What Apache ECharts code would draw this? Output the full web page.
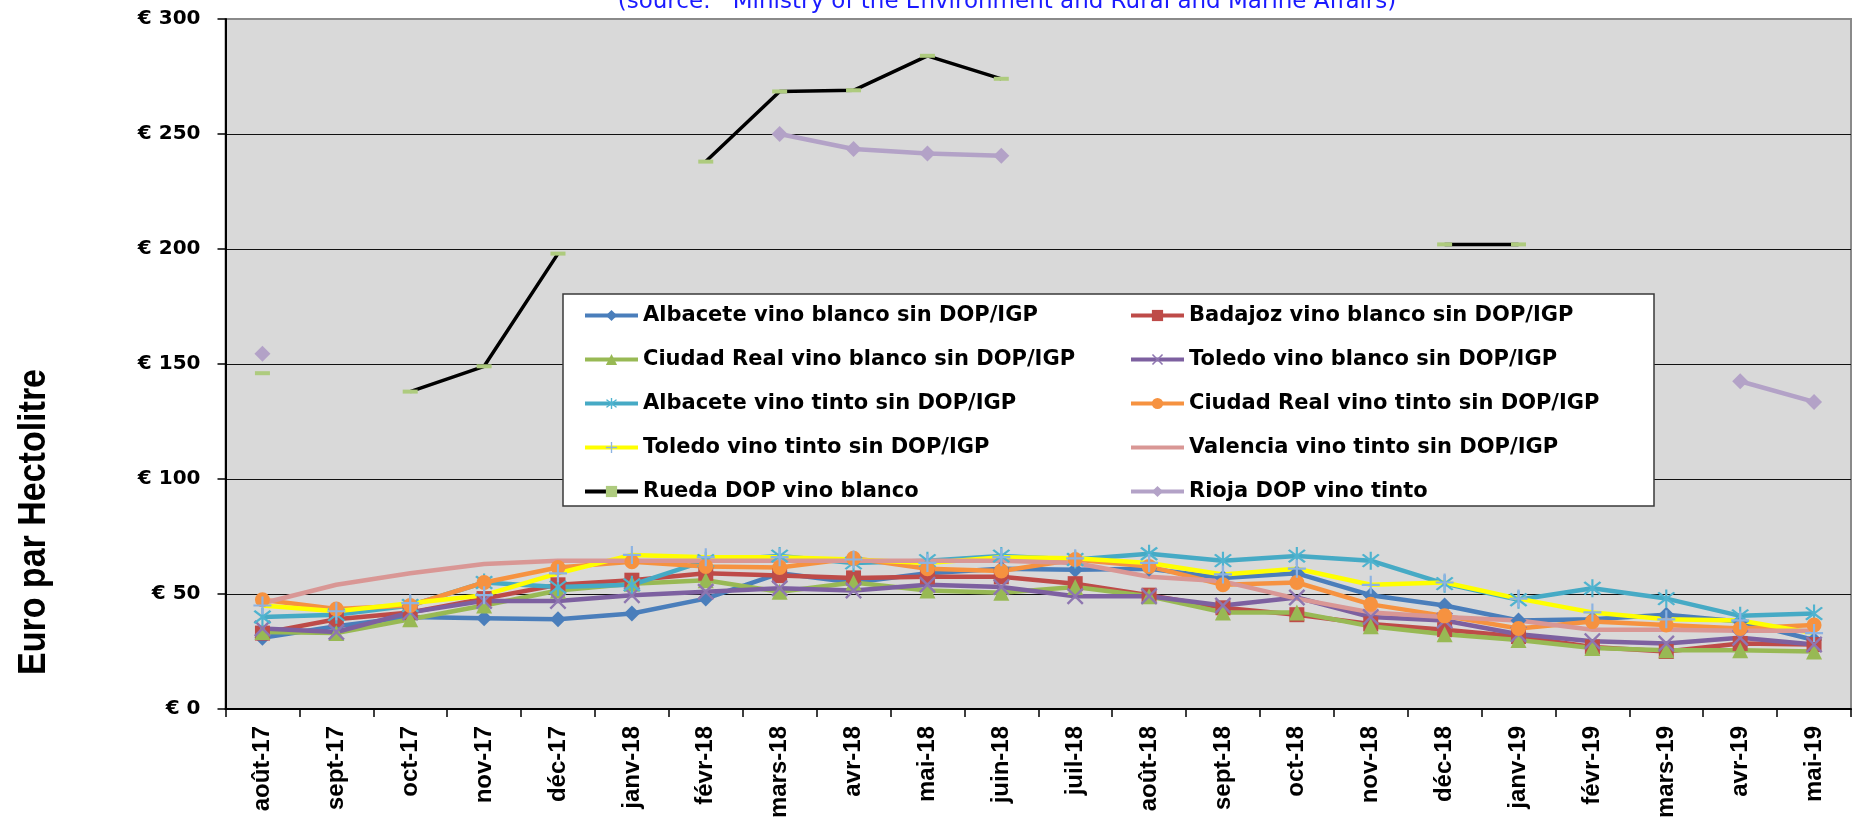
<!DOCTYPE html>
<html><head><meta charset="utf-8">
<script src="https://cdn.jsdelivr.net/npm/echarts@6/dist/echarts.min.js"></script>
<style>html,body{margin:0;padding:0;background:#fff}#c{width:1852px;height:823px}</style>
</head><body><div id="c"></div>
<script>
const categories = ['août-17','sept-17','oct-17','nov-17','déc-17','janv-18','févr-18','mars-18','avr-18','mai-18','juin-18','juil-18','août-18','sept-18','oct-18','nov-18','déc-18','janv-19','févr-19','mars-19','avr-19','mai-19'];
const yTicks = [0, 50, 100, 150, 200, 250, 300];

const albaceteBlanco   = [31, 36, 40, 39.5, 39, 41.5, 48, 59, 55, 59, 61, 60.5, 61, 57, 59, 49.5, 45, 38.5, 39, 41, 38, 30];
const badajozBlanco    = [33, 39, 42, 48, 54, 56, 59, 58, 57, 57.5, 57.5, 54.5, 49.5, 44, 41, 37, 34.5, 31.5, 27, 25, 28.5, 28];
const ciudadRealBlanco = [33.5, 33, 39, 45, 51.5, 54.5, 56, 51, 55, 51.5, 50.5, 53, 49, 42, 42, 36, 32.5, 30, 26.5, 25.5, 25.5, 25];
const toledoBlanco     = [35, 33.5, 42, 47, 47, 49.5, 51, 52.5, 51.5, 54, 53, 49, 49, 45, 48.5, 40, 38.5, 32.5, 29.5, 28.5, 31, 28];
const albaceteTinto    = [40, 41, 45, 55, 53, 54, 64.5, 66.5, 63.5, 64.5, 66.5, 65, 67.5, 64.5, 66.5, 64.5, 54.5, 47.5, 52.5, 48, 40.5, 41.5];
const ciudadRealTinto  = [47.5, 43.5, 45, 55, 61.5, 64, 62, 61.5, 65.5, 61, 60, 65, 62, 54, 55, 45.5, 40.5, 35, 38, 36.5, 35, 36.5];
const toledoTinto      = [45, 42.5, 46, 49.5, 59, 67, 66, 66, 65, 63.5, 66, 65.5, 63.5, 58.5, 61, 54, 55, 48, 42, 39, 38.5, 33];
const valenciaTinto    = [46, 54, 59, 63, 64.5, 64.5, 64.5, 64.5, 64.5, 64.5, 64.5, 63.5, 57.5, 55.5, 48, 42, 40, 38.5, 34.5, 34.5, 34, 34];
const ruedaBlanco      = [146, null, 138, 149, 198, null, 238, 268.5, 269, 284, 274, null, null, null, null, null, 202, 202, null, null, null, null];
const riojaTinto       = [154.5, null, null, null, null, null, null, 250, 243.5, 241.5, 240.5, null, null, null, null, null, null, null, null, null, 142.5, 133.5];

const seriesNames = [
  'Albacete vino blanco sin DOP/IGP', 'Badajoz vino blanco sin DOP/IGP',
  'Ciudad Real vino blanco sin DOP/IGP', 'Toledo vino blanco sin DOP/IGP',
  'Albacete vino tinto sin DOP/IGP', 'Ciudad Real vino tinto sin DOP/IGP',
  'Toledo vino tinto sin DOP/IGP', 'Valencia vino tinto sin DOP/IGP',
  'Rueda DOP vino blanco', 'Rioja DOP vino tinto'
];

const SYM_X = 'path://M0,1 L1,0 L5,4 L9,0 L10,1 L6,5 L10,9 L9,10 L5,6 L1,10 L0,9 L4,5 Z';
const SYM_AST = 'path://M0,1 L1,0 L5,4 L9,0 L10,1 L6,5 L10,9 L9,10 L5,6 L1,10 L0,9 L4,5 Z M4.4,-1.5 L5.6,-1.5 L5.6,11.5 L4.4,11.5 Z';
const SYM_PLUS = 'path://M4.4,0 L5.6,0 L5.6,4.4 L10,4.4 L10,5.6 L5.6,5.6 L5.6,10 L4.4,10 L4.4,5.6 L0,5.6 L0,4.4 L4.4,4.4 Z';

function mk(name, data, lineColor, symColor, symbol, size, width) {
  return {
    name, type: 'line', data,
    symbol, symbolSize: size, showSymbol: symbol !== 'none', showAllSymbol: true,
    connectNulls: false,
    lineStyle: { color: lineColor, width: width },
    itemStyle: { color: symColor, borderWidth: 0 },
    emphasis: { disabled: true },
    silent: true
  };
}

const series = [
  mk(seriesNames[0], albaceteBlanco, '#4A7EBB', '#4A7EBB', 'diamond', 16, 4.5),
  mk(seriesNames[1], badajozBlanco, '#BE4B48', '#BE4B48', 'rect', 15, 4.5),
  mk(seriesNames[2], ciudadRealBlanco, '#98B954', '#98B954', 'triangle', 16, 4.5),
  mk(seriesNames[3], toledoBlanco, '#7D60A0', '#8E76B0', SYM_X, 17, 4.5),
  mk(seriesNames[4], albaceteTinto, '#46AAC5', '#4FB3CF', SYM_AST, 18, 4.5),
  mk(seriesNames[5], ciudadRealTinto, '#F69240', '#F69240', 'circle', 15, 4.5),
  mk(seriesNames[6], toledoTinto, '#FFFF00', '#8DB3E2', SYM_PLUS, 18, 4.5),
  mk(seriesNames[7], valenciaTinto, '#D99795', '#D99795', 'none', 10, 4.5),
  mk(seriesNames[8], ruedaBlanco, '#000000', '#AECB7E', 'rect', [15, 4], 3.5),
  mk(seriesNames[9], riojaTinto, '#B3A2C7', '#B3A2C7', 'diamond', 16, 4.5)
];

const legendCommon = {
  orient: 'vertical', top: 305, itemGap: 23, itemWidth: 53, itemHeight: 14,
  selectedMode: false, z: 60,
  lineStyle: { width: 4 },
  textStyle: { fontFamily: 'DejaVu Sans', fontWeight: 'bold', fontSize: 21, lineHeight: 20, color: '#000' },
  backgroundColor: 'transparent', borderWidth: 0, padding: 0
};

const chart = echarts.init(document.getElementById('c'), null, { renderer: 'canvas' });
chart.setOption({
  animation: false,
  backgroundColor: '#ffffff',
  grid: {
    left: 225.5, right: 1, top: 19, bottom: 114,
    show: true, backgroundColor: '#D9D9D9', borderColor: '#8a8a8a', borderWidth: 2
  },
  xAxis: {
    type: 'category', data: categories, boundaryGap: true,
    axisLine: { show: true, lineStyle: { color: '#000', width: 2 } },
    axisTick: { show: true, alignWithLabel: false, interval: 0, length: 8, lineStyle: { color: '#000', width: 1.5 } },
    axisLabel: {
      interval: 0, rotate: 90, margin: 17, color: '#000',
      fontFamily: 'Liberation Sans', fontWeight: 'bold', fontSize: 24
    },
    splitLine: { show: false }
  },
  yAxis: {
    type: 'value', min: yTicks[0], max: yTicks[yTicks.length - 1], interval: yTicks[1] - yTicks[0],
    axisLine: { show: true, lineStyle: { color: '#000', width: 2 } },
    axisTick: { show: true, inside: false, length: 8, lineStyle: { color: '#000', width: 1.5 } },
    axisLabel: {
      margin: 25, color: '#000', fontFamily: 'DejaVu Sans', fontWeight: 'bold', fontSize: 20,
      formatter: v => '€ ' + v
    },
    splitLine: { show: true, showMinLine: false, showMaxLine: false, lineStyle: { color: '#111', width: 1.2 } }
  },
  legend: [
    Object.assign({}, legendCommon, { left: 583, data: [seriesNames[0], seriesNames[2], seriesNames[4], seriesNames[6], seriesNames[8]] }),
    Object.assign({}, legendCommon, { left: 1129, data: [
      seriesNames[1], seriesNames[3], seriesNames[5],
      { name: seriesNames[7], itemStyle: { color: 'rgba(0,0,0,0)', opacity: 0, borderWidth: 0 } },
      seriesNames[9]
    ] })
  ],
  graphic: [
    {
      type: 'rect', z: 50, silent: true,
      shape: { x: 563, y: 294, width: 1091, height: 212 },
      style: { fill: '#ffffff', stroke: '#3a3a3a', lineWidth: 1.5 }
    },
    {
      type: 'text', z: 100, x: 1007, y: 14, silent: true,
      style: {
        text: '(source:   Ministry of the Environment and Rural and Marine Affairs)',
        font: '23px "DejaVu Sans"', fill: '#1a1aff', align: 'center', verticalAlign: 'bottom'
      }
    },
    {
      type: 'text', z: 100, x: 34, y: 522, rotation: Math.PI / 2, scaleY: 1.15, silent: true,
      style: {
        text: 'Euro par Hectolitre',
        font: 'bold 34px "Liberation Sans"', fill: '#000', align: 'center', verticalAlign: 'middle'
      }
    }
  ],
  series: series
});
</script>
</body></html>
